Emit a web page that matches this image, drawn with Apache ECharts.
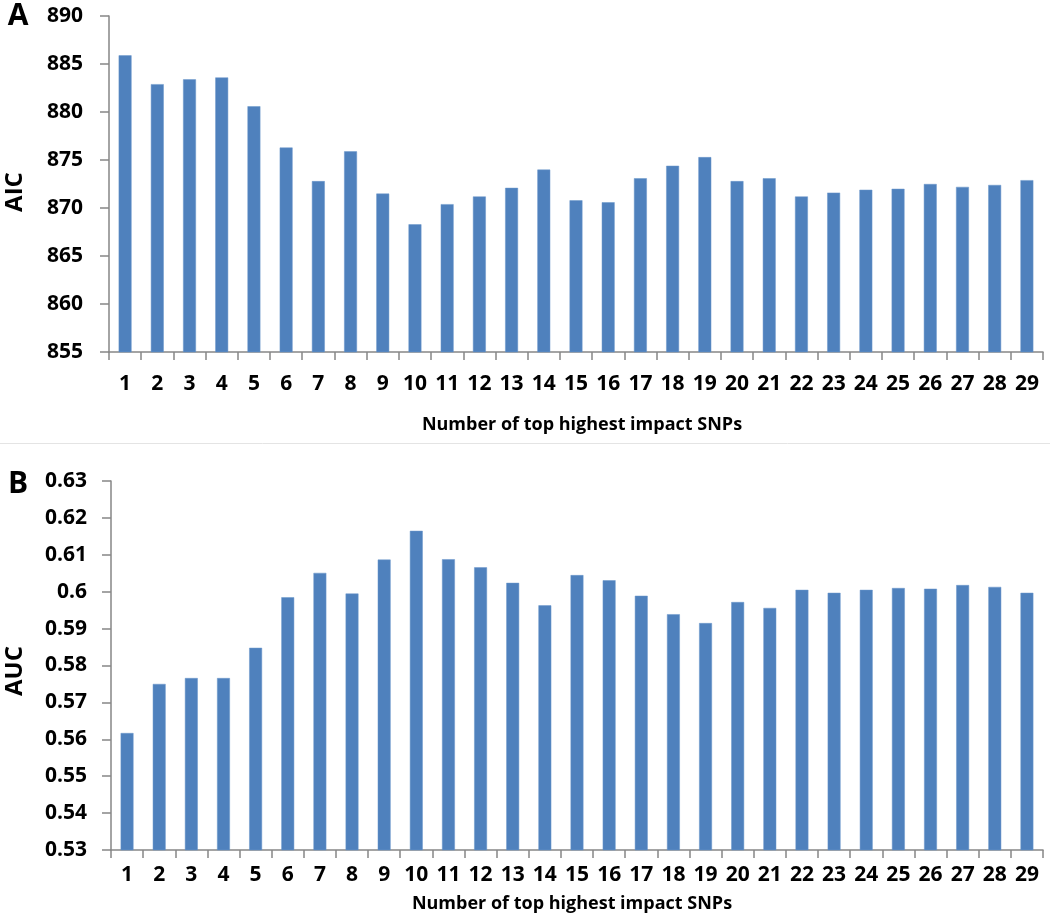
<!DOCTYPE html>
<html>
<head>
<meta charset="utf-8">
<script src="https://cdn.jsdelivr.net/npm/echarts@6/dist/echarts.min.js"></script>
<style>html,body{margin:0;padding:0;background:#fff}#c{width:1050px;height:922px}</style>
</head>
<body>
<div id="c"></div>
<script>
const categories = ['1','2','3','4','5','6','7','8','9','10','11','12','13','14','15','16','17','18','19','20','21','22','23','24','25','26','27','28','29'];
const aicValues = [885.9,882.9,883.4,883.6,880.6,876.3,872.8,875.9,871.5,868.3,870.4,871.2,872.1,874.0,870.8,870.6,873.1,874.4,875.3,872.8,873.1,871.2,871.6,871.9,872.0,872.5,872.2,872.4,872.9];
const aucValues = [0.5617,0.5750,0.5766,0.5766,0.5848,0.5985,0.6051,0.5995,0.6087,0.6165,0.6088,0.6066,0.6024,0.5963,0.6045,0.6031,0.5989,0.5939,0.5915,0.5972,0.5956,0.6005,0.5997,0.6005,0.6010,0.6008,0.6018,0.6013,0.5997];
const aicTicks = {min: 855, max: 890, interval: 5};
const aucTicks = {min: 0.53, max: 0.63, interval: 0.01};
const xTitle = 'Number of top highest impact SNPs';

const FONT = '"Open Sans", Lato, sans-serif';
const axisColor = '#868686';
const barColor = '#4F81BD';

function xAxisCfg(gridIndex, margin) {
  return {
    type: 'category', gridIndex, data: categories, boundaryGap: true,
    axisLine: {lineStyle: {color: axisColor, width: 1.5}},
    axisTick: {show: true, alignWithLabel: false, length: 8, lineStyle: {color: axisColor, width: 1.5}},
    axisLabel: {color: '#000', fontFamily: FONT, fontWeight: 'bold', fontSize: 21, margin, interval: 0},
    splitLine: {show: false}
  };
}
function yAxisCfg(gridIndex, t, margin, fmt) {
  return {
    type: 'value', gridIndex, min: t.min, max: t.max, interval: t.interval,
    axisLine: {show: true, lineStyle: {color: axisColor, width: 1.5}},
    axisTick: {show: true, length: 9, lineStyle: {color: axisColor, width: 1.5}},
    axisLabel: {color: '#000', fontFamily: FONT, fontWeight: 'bold', fontSize: 21, margin, formatter: fmt},
    splitLine: {show: false}
  };
}

const chart = echarts.init(document.getElementById('c'), null, {renderer: 'canvas'});
chart.setOption({
  animation: false,
  backgroundColor: '#fff',
  grid: [
    {left: 109, right: 7, top: 16, height: 336},
    {left: 111, right: 7, top: 481, height: 369}
  ],
  xAxis: [xAxisCfg(0, 22), xAxisCfg(1, 15)],
  yAxis: [
    yAxisCfg(0, aicTicks, 26, v => String(Math.round(v))),
    yAxisCfg(1, aucTicks, 24, v => String(parseFloat(v.toFixed(2))))
  ],
  series: [
    {type: 'bar', xAxisIndex: 0, yAxisIndex: 0, data: aicValues, barWidth: '40%',
     itemStyle: {color: barColor, borderColor: '#6a96cb', borderWidth: 0.5}},
    {type: 'bar', xAxisIndex: 1, yAxisIndex: 1, data: aucValues, barWidth: '40%',
     itemStyle: {color: barColor, borderColor: '#6a96cb', borderWidth: 0.5}}
  ],
  graphic: [
    {type: 'line', shape: {x1: 0, y1: 443.5, x2: 1050, y2: 443.5}, style: {stroke: '#e4e4e4', lineWidth: 1}},
    {type: 'text', x: 18, y: 16, style: {text: 'A', font: 'bold 30px ' + FONT, fill: '#000', align: 'center', verticalAlign: 'middle'}},
    {type: 'text', x: 18, y: 484, style: {text: 'B', font: 'bold 30px ' + FONT, fill: '#000', align: 'center', verticalAlign: 'middle'}},
    {type: 'text', x: 15, y: 192, rotation: Math.PI / 2, style: {text: 'AIC', font: 'bold 24px ' + FONT, fill: '#000', align: 'center', verticalAlign: 'middle'}},
    {type: 'text', x: 15, y: 671, rotation: Math.PI / 2, style: {text: 'AUC', font: 'bold 24px ' + FONT, fill: '#000', align: 'center', verticalAlign: 'middle'}},
    {type: 'text', x: 582, y: 425, style: {text: xTitle, font: 'bold 18px ' + FONT, fill: '#000', align: 'center', verticalAlign: 'middle'}},
    {type: 'text', x: 572, y: 904, style: {text: xTitle, font: 'bold 18px ' + FONT, fill: '#000', align: 'center', verticalAlign: 'middle'}}
  ]
});
</script>
</body>
</html>
